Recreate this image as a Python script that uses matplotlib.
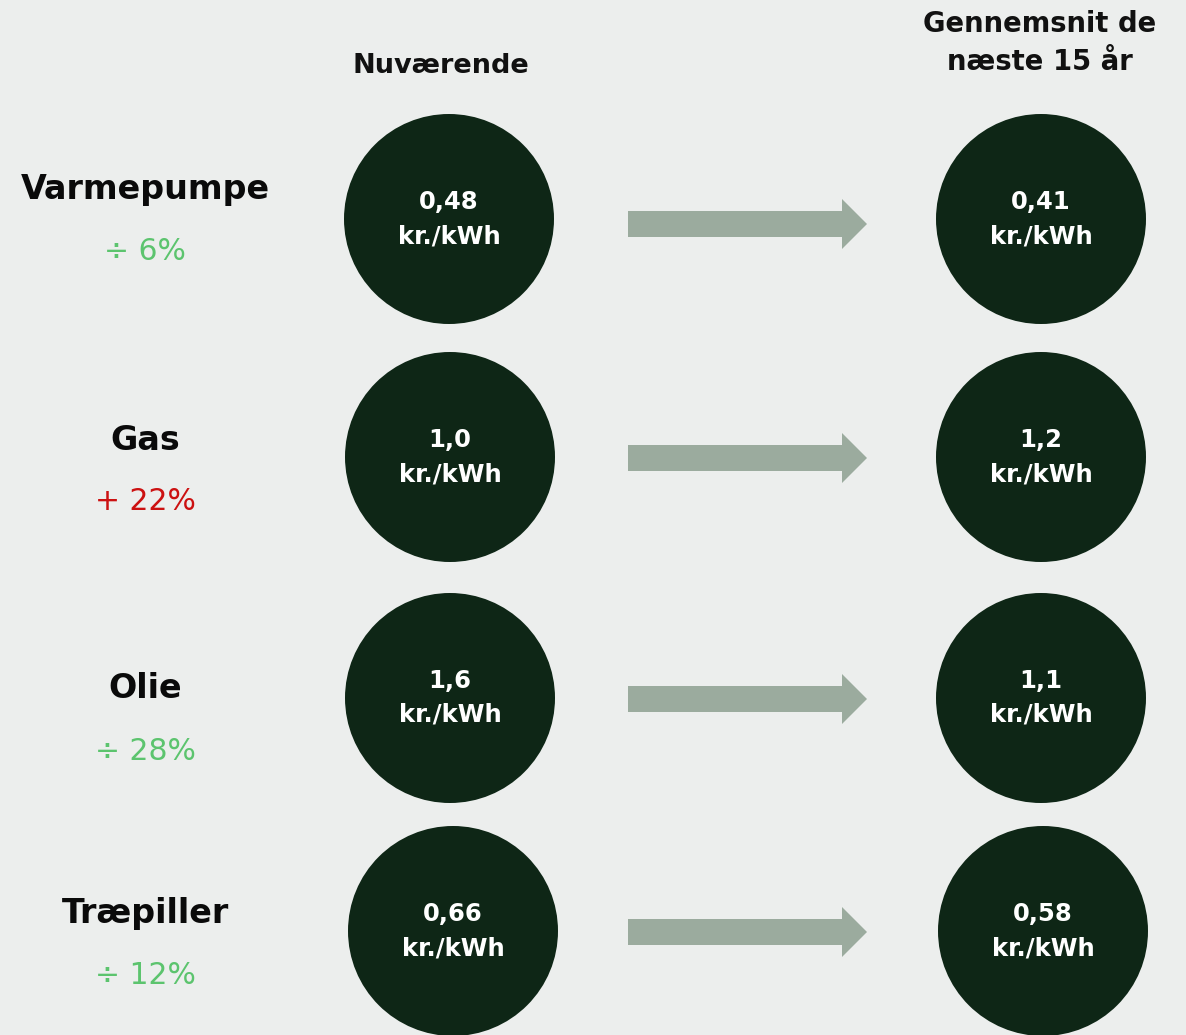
import matplotlib
matplotlib.use("Agg")
import matplotlib.pyplot as plt
from matplotlib.patches import Circle, FancyArrow

plt.rcParams['font.family'] = ['DejaVu Sans']

categories = ["Varmepumpe", "Gas", "Olie", "Træpiller"]
current = ["0,48", "1,0", "1,6", "0,66"]
future = ["0,41", "1,2", "1,1", "0,58"]
changes = ["÷ 6%", "+ 22%", "÷ 28%", "÷ 12%"]
change_up = [False, True, False, False]
unit = "kr./kWh"
header_now = "Nuværende"
header_future = ["Gennemsnit de", "næste 15 år"]

BG = "#eceeed"
DARK = "#0e2616"
ARROW = "#9bab9e"
GREEN = "#5cc46e"
RED = "#cc1111"

W, H = 1186, 1035
fig = plt.figure(figsize=(W / 100, H / 100), dpi=100, facecolor=BG)
ax = fig.add_axes([0, 0, 1, 1])
ax.set_facecolor(BG)
ax.set_xlim(0, W)
ax.set_ylim(H, 0)
ax.axis("off")

row_y = [219, 457, 698, 931]
label_dy = [-29, -17, -9, -18]
x_label = 145
x_left = [449, 450, 450, 453]
x_right = [1041, 1041, 1041, 1043]
radius = 105

ax.text(441, 66, header_now, ha="center", va="center", fontsize=19.5,
        fontweight="bold", color="#111111")
ax.text(1040, 24, header_future[0], ha="center", va="center", fontsize=19.8,
        fontweight="bold", color="#111111")
ax.text(1040, 62, header_future[1], ha="center", va="center", fontsize=19.8,
        fontweight="bold", color="#111111")

for i, cat in enumerate(categories):
    y = row_y[i]
    ax.text(x_label, y + label_dy[i], cat, ha="center", va="center",
            fontsize=24, fontweight="bold", color="#0a0a0a")
    ax.text(x_label, y + label_dy[i] + 62, changes[i], ha="center", va="center",
            fontsize=21.5, color=RED if change_up[i] else GREEN)
    for xc, val in ((x_left[i], current[i]), (x_right[i], future[i])):
        ax.add_patch(Circle((xc, y), radius, facecolor=DARK, edgecolor="none"))
        ax.text(xc, y - 17, val, ha="center", va="center",
                fontsize=17.5, fontweight="bold", color="white")
        ax.text(xc, y + 17, unit, ha="center", va="center",
                fontsize=17.5, fontweight="bold", color="white")
    ay = y + 5 if i == 0 else y + 1
    ax.add_patch(FancyArrow(628, ay, 239, 0, width=26, head_width=50,
                            head_length=25, length_includes_head=True,
                            facecolor=ARROW, edgecolor="none"))

fig.savefig("out.png", dpi=100, facecolor=BG)
